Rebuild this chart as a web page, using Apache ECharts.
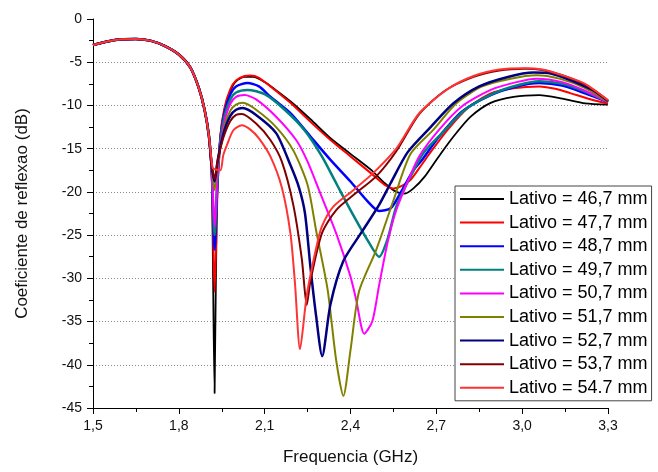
<!DOCTYPE html>
<html>
<head>
<meta charset="utf-8">
<script src="https://cdn.jsdelivr.net/npm/echarts@6/dist/echarts.min.js"></script>
<style>
html,body{margin:0;padding:0;background:#fff;}
#chart{width:658px;height:472px;}
</style>
</head>
<body>
<div id="chart"></div>
<script>
// Common low-frequency part shared by every curve
const commonStart = [[1.5,-3.0],[1.55,-2.6],[1.6,-2.35],[1.65,-2.3],[1.7,-2.5],[1.75,-3.1],[1.8,-4.1],[1.84,-5.6],[1.87,-8.0],[1.89,-10.5],[1.905,-13.5]];

const names = ["Lativo = 46,7 mm","Lativo = 47,7 mm","Lativo = 48,7 mm","Lativo = 49,7 mm","Lativo = 50,7 mm","Lativo = 51,7 mm","Lativo = 52,7 mm","Lativo = 53,7 mm","Lativo = 54.7 mm"];

const s467 = [[1.915,-18],[1.925,-43.3],[1.933,-21],[1.945,-13.6],[1.96,-10.4],[1.98,-8.3],[2.0,-7.2],[2.03,-6.7],[2.06,-6.7],[2.1,-7.3],[2.15,-8.5],[2.2,-9.8],[2.26,-11.6],[2.33,-13.8],[2.4,-15.6],[2.47,-17.4],[2.52,-19.0],[2.56,-20.0],[2.59,-20.2],[2.62,-19.6],[2.66,-18.2],[2.7,-16.3],[2.76,-13.6],[2.82,-11.3],[2.89,-9.7],[2.97,-9.0],[3.06,-8.8],[3.14,-9.2],[3.22,-9.75],[3.3,-9.9]];
const s477 = [[1.915,-18],[1.925,-31.6],[1.935,-20],[1.945,-13.5],[1.96,-10.2],[1.98,-8.1],[2.0,-7.1],[2.03,-6.6],[2.05,-6.55],[2.08,-6.8],[2.12,-7.8],[2.19,-9.7],[2.26,-11.9],[2.33,-14.0],[2.4,-15.9],[2.47,-17.8],[2.52,-19.2],[2.55,-19.6],[2.58,-19.3],[2.61,-18.6],[2.65,-16.8],[2.68,-15.4],[2.74,-12.8],[2.81,-10.3],[2.89,-8.6],[2.97,-8.0],[3.06,-7.8],[3.12,-8.1],[3.17,-8.6],[3.25,-9.4],[3.3,-9.8]];
const s487 = [[1.915,-17.5],[1.925,-26.7],[1.935,-19],[1.945,-14],[1.96,-10.8],[1.98,-8.7],[2.0,-7.8],[2.04,-7.4],[2.08,-7.8],[2.12,-9.0],[2.19,-10.9],[2.26,-13.6],[2.33,-16.3],[2.4,-18.8],[2.46,-21.1],[2.5,-22.2],[2.54,-21.9],[2.57,-20.4],[2.62,-17.5],[2.65,-16.3],[2.71,-13.6],[2.79,-10.7],[2.89,-8.8],[2.98,-7.8],[3.06,-7.4],[3.14,-7.7],[3.22,-8.6],[3.3,-9.6]];
const s497 = [[1.915,-17.5],[1.925,-25],[1.935,-18.5],[1.945,-14.2],[1.96,-11.2],[1.98,-9.3],[2.0,-8.5],[2.04,-8.2],[2.1,-8.7],[2.17,-10.5],[2.24,-12.9],[2.3,-15.9],[2.35,-19.0],[2.4,-22.1],[2.46,-25.6],[2.5,-27.5],[2.53,-25.4],[2.56,-21.7],[2.61,-18.2],[2.655,-15.5],[2.72,-13.2],[2.8,-10.5],[2.9,-8.6],[2.99,-7.6],[3.06,-7.2],[3.14,-7.5],[3.22,-8.4],[3.3,-9.6]];
const s507 = [[1.915,-17.5],[1.925,-24],[1.935,-18],[1.945,-14.5],[1.96,-11.8],[1.98,-9.8],[2.0,-9.0],[2.03,-8.8],[2.07,-9.3],[2.14,-11.3],[2.21,-14.0],[2.25,-16.5],[2.29,-19.8],[2.35,-24.8],[2.4,-29.8],[2.42,-32.5],[2.448,-36.4],[2.476,-35.0],[2.5,-30.8],[2.53,-25.8],[2.56,-22.1],[2.6,-18.8],[2.64,-15.9],[2.71,-12.8],[2.79,-10.1],[2.89,-8.2],[2.98,-7.3],[3.05,-6.9],[3.14,-7.3],[3.22,-8.3],[3.3,-9.6]];
const s517 = [[1.915,-17],[1.925,-19.8],[1.935,-17],[1.945,-14.8],[1.96,-12.3],[1.98,-10.6],[2.0,-9.9],[2.024,-9.7],[2.07,-10.5],[2.14,-12.5],[2.2,-15.2],[2.25,-19.2],[2.28,-24.5],[2.32,-31.3],[2.35,-39.5],[2.375,-43.6],[2.4,-38.3],[2.43,-31.5],[2.49,-26.7],[2.55,-21.0],[2.61,-15.6],[2.69,-12.8],[2.77,-9.75],[2.86,-7.8],[2.96,-6.9],[3.05,-6.5],[3.13,-6.9],[3.22,-8.0],[3.3,-9.6]];
const s527 = [[1.915,-17],[1.925,-18.8],[1.935,-16.5],[1.945,-14.8],[1.96,-12.8],[1.98,-11.2],[2.0,-10.5],[2.023,-10.3],[2.07,-11.1],[2.14,-13.2],[2.19,-16.9],[2.22,-19.5],[2.241,-22.5],[2.26,-28.7],[2.28,-34.4],[2.301,-39.0],[2.33,-33.0],[2.375,-28.0],[2.44,-24.6],[2.5,-21.5],[2.54,-19.0],[2.6,-15.4],[2.68,-12.5],[2.76,-9.75],[2.85,-7.8],[2.95,-6.7],[3.04,-6.2],[3.1,-6.3],[3.17,-7.1],[3.25,-8.3],[3.3,-9.5]];
const s537 = [[1.915,-17],[1.925,-18.5],[1.935,-16.5],[1.945,-15],[1.96,-13.3],[1.98,-11.8],[2.0,-11.1],[2.02,-11.0],[2.07,-12.1],[2.12,-14.0],[2.16,-16.5],[2.2,-21.5],[2.23,-27.8],[2.247,-33.1],[2.26,-30.3],[2.3,-24.8],[2.35,-22.1],[2.42,-20.1],[2.49,-18.2],[2.56,-15.3],[2.64,-11.0],[2.73,-8.3],[2.83,-6.7],[2.92,-5.95],[3.01,-5.75],[3.07,-5.9],[3.14,-6.5],[3.22,-7.6],[3.3,-9.4]];
const s547 = [[1.915,-16.5],[1.92,-17.3],[1.945,-17.5],[1.955,-15.8],[1.968,-14.6],[1.99,-12.9],[2.02,-12.3],[2.05,-12.8],[2.08,-13.8],[2.12,-15.9],[2.16,-19.5],[2.19,-24.8],[2.206,-30.6],[2.2235,-38.2],[2.247,-32.0],[2.28,-26.5],[2.3,-24.0],[2.34,-21.7],[2.41,-19.8],[2.48,-17.8],[2.56,-15.0],[2.64,-10.9],[2.74,-8.1],[2.83,-6.6],[2.92,-5.85],[3.01,-5.7],[3.07,-5.85],[3.14,-6.5],[3.22,-7.5],[3.3,-9.4]];

const seriesData = [s467,s477,s487,s497,s507,s517,s527,s537,s547];
const colors = ['#000000','#ff0000','#0000ff','#008080','#ff00ff','#808000','#000080','#800000','#ff3333'];
const widths = [1.8,2,2.5,2.5,2,2,2.5,2,2];

const xTicks = [1.5,1.8,2.1,2.4,2.7,3.0,3.3];
const yTicks = [-45,-40,-35,-30,-25,-20,-15,-10,-5,0];

const chart = echarts.init(document.getElementById('chart'), null, {renderer:'canvas'});
const font = 'Liberation Sans, Arial, sans-serif';

const gridColors = yTicks.map((v,i)=> (i===0||i===yTicks.length-1) ? 'rgba(0,0,0,0)' : '#8a8a8a');

chart.setOption({
  backgroundColor:'#ffffff',
  animation:false,
  grid:{left:93,right:50,top:19,bottom:64,containLabel:false},
  legend:{
    orient:'vertical', left:455, top:186,
    data:names.map((n,i)=>({name:n, icon:'rect', itemStyle:{color:colors[i]}})),
    itemWidth:44, itemHeight:Math.max(2,2), itemGap:3.6,
    padding:[3,4,3,5],
    borderColor:'#444', borderWidth:1, backgroundColor:'#fff',
    textStyle:{fontFamily:font,fontSize:18,color:'#000',lineHeight:20}
  },
  xAxis:{
    type:'value', min:1.5, max:3.3, interval:0.3,
    name:'Frequencia (GHz)', nameLocation:'middle', nameGap:41,
    nameTextStyle:{fontFamily:font,fontSize:17,color:'#111'},
    axisLine:{show:true,onZero:false,lineStyle:{color:'#000',width:1}},
    axisTick:{show:true,inside:false,length:6,lineStyle:{color:'#000'}},
    minorTick:{show:true,splitNumber:2,length:4,lineStyle:{color:'#000'}},
    axisLabel:{fontFamily:font,fontSize:14,color:'#111',margin:11,
      formatter:v=>v.toFixed(1).replace('.',',')},
    splitLine:{show:false}
  },
  yAxis:{
    type:'value', min:-45, max:0, interval:5,
    name:'Coeficiente de reflexao (dB)', nameLocation:'middle', nameGap:62,
    nameTextStyle:{fontFamily:font,fontSize:17,color:'#111'},
    axisLine:{show:true,onZero:false,lineStyle:{color:'#000',width:1}},
    axisTick:{show:true,inside:false,length:6,lineStyle:{color:'#000'}},
    minorTick:{show:true,splitNumber:2,length:4,lineStyle:{color:'#000'}},
    axisLabel:{fontFamily:font,fontSize:14,color:'#111',margin:11},
    splitLine:{show:true,lineStyle:{color:gridColors,type:[1,2],width:1}}
  },
  series: seriesData.map((d,i)=>({
    name:names[i], type:'line', data: commonStart.concat(d),
    symbol:'none', smooth:0.25,
    lineStyle:{color:colors[i],width:widths[i]},
    itemStyle:{color:colors[i]}
  }))
});
</script>
</body>
</html>
